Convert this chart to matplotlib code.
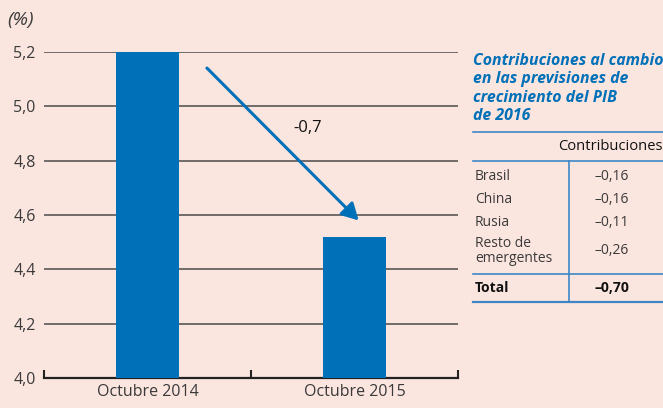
import matplotlib
matplotlib.use("Agg")
import matplotlib.pyplot as plt
from matplotlib.lines import Line2D

categories = ["Octubre 2014", "Octubre 2015"]
values = [5.20, 4.52]
yticks = [4.0, 4.2, 4.4, 4.6, 4.8, 5.0, 5.2]
change_label = "-0,7"

table_title = "Contribuciones al cambio\nen las previsiones de\ncrecimiento del PIB\nde 2016"
table_header = "Contribuciones"
table_rows = ["Brasil", "China", "Rusia", "Resto de\nemergentes"]
table_vals = ["–0,16", "–0,16", "–0,11", "–0,26"]
total_label = "Total"
total_val = "–0,70"

BG = "#FBE5DF"
BLUE = "#0070B8"
LINE = "#3E87C6"
TXT = "#3a3a3a"
FONT = "Open Sans"

plt.rcParams["font.family"] = [FONT, "DejaVu Sans"]

W, H = 663, 408
fig = plt.figure(figsize=(W / 100, H / 100), dpi=100, facecolor=BG)

def fx(px):
    return px / W

def fy(py):
    return 1 - py / H

ax = fig.add_axes([fx(44), fy(378), fx(458) - fx(44), fy(52) - fy(378)])
ax.set_facecolor(BG)
x = list(range(len(categories)))
ax.bar(x, values, width=0.3, color=BLUE, zorder=3)
ax.set_xlim(-0.5, 1.5)
ax.set_ylim(4.0, 5.2)
ax.set_yticks(yticks)
ax.set_yticklabels([f"{v:.1f}".replace(".", ",") for v in yticks], color=TXT, fontsize=11.5)
ax.tick_params(axis="y", length=0, pad=6)
for v in yticks[1:]:
    ax.axhline(v, color="#4a4a4a", lw=1.1, zorder=1)
ax.set_xticks(x)
ax.set_xticklabels(categories, color=TXT, fontsize=11.5)
ax.tick_params(axis="x", which="major", length=0, pad=4)
ax.set_xticks([-0.5, 0.5, 1.5], minor=True)
ax.tick_params(axis="x", which="minor", direction="in", length=6, width=1.5, color="#222222")
for s in ["top", "right", "left"]:
    ax.spines[s].set_visible(False)
ax.spines["bottom"].set_color("#222222")
ax.spines["bottom"].set_linewidth(1.6)

ax.annotate("", xy=(1.02, 4.58), xytext=(0.287, 5.141),
            arrowprops=dict(arrowstyle="-|>,head_length=1.0,head_width=0.55",
                            color=BLUE, lw=2.2, shrinkA=0, shrinkB=0), zorder=5)
ax.text(0.775, 4.92, change_label, fontsize=12, color="#111111", ha="center", va="center")

fig.text(fx(7), fy(20), "(%)", fontsize=14, style="italic", color=TXT, ha="left", va="center")

# Table
fig.text(fx(473), fy(53), table_title, fontsize=11.4, weight="bold", style="italic",
         color=BLUE, ha="left", va="top", linespacing=1.2)

def hline(py, x0=473, x1=663, lw=1.2):
    fig.add_artist(Line2D([fx(x0), fx(x1)], [fy(py), fy(py)], color=LINE, lw=lw))

hline(132)
hline(161)
hline(274)
hline(302, lw=1.6)
fig.add_artist(Line2D([fx(569), fx(569)], [fy(161), fy(302)], color=LINE, lw=1.2))

fig.text(fx(610.5), fy(147), table_header, fontsize=10.6, color="#111111", ha="center", va="center")
row_y = [177, 199, 223, 251]
for lab, val, py in zip(table_rows, table_vals, row_y):
    fig.text(fx(475), fy(py), lab, fontsize=10, color=TXT, ha="left", va="center", linespacing=1.0)
    fig.text(fx(612), fy(py), val, fontsize=10, color=TXT, ha="center", va="center")
fig.text(fx(475), fy(288), total_label, fontsize=10, weight="bold", color="#111111", ha="left", va="center")
fig.text(fx(612), fy(288), total_val, fontsize=10, weight="bold", color="#111111", ha="center", va="center")

fig.savefig("out.png", dpi=100, facecolor=BG)
